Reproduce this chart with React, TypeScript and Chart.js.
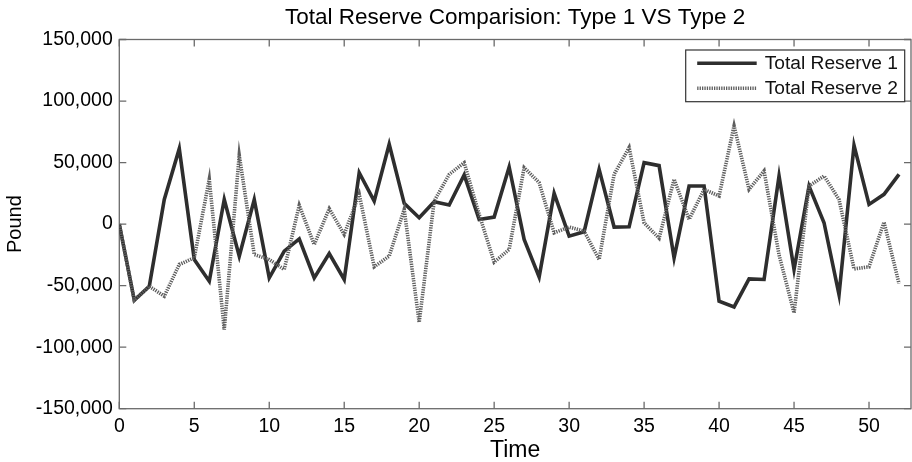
import React, { useEffect, useRef } from 'react';
import { Chart, registerables } from 'chart.js';

Chart.register(...registerables);

const chartTitle = 'Total Reserve Comparision: Type 1 VS Type 2';
const xAxisTitle = 'Time';
const yAxisTitle = 'Pound';
const seriesLabels = ['Total Reserve 1', 'Total Reserve 2'];

const timeSteps = [
  0, 1, 2, 3, 4, 5, 6, 7, 8, 9, 10, 11, 12, 13, 14, 15, 16, 17, 18, 19, 20,
  21, 22, 23, 24, 25, 26, 27, 28, 29, 30, 31, 32, 33, 34, 35, 36, 37, 38, 39,
  40, 41, 42, 43, 44, 45, 46, 47, 48, 49, 50, 51, 52,
];

const reserve1 = [
  0, -61900, -50500, 20000, 61300, -28800, -46400, 20000, -26000, 20000,
  -43700, -22000, -12000, -43700, -23900, -45000, 41800, 18700, 64900, 16800,
  5200, 18200, 15500, 39900, 3800, 5700, 46400, -12500, -42900, 25000,
  -9800, -6200, 44500, -2400, -2200, 49900, 47500, -27400, 30900, 30900,
  -62700, -67300, -44500, -45000, 39100, -36900, 30900, 1100, -57300, 64000,
  16000, 24200, 40400,
];

const reserve2 = [
  0, -61900, -50500, -58600, -32800, -27400, 36400, -85800, 55900, -24700,
  -28800, -36900, 15200, -16600, 12500, -8400, 24200, -34700, -26000, 11900,
  -79800, 18700, 40400, 49900, 7900, -30900, -20600, 45900, 33700, -7100,
  -2400, -5700, -28800, 40400, 62200, 1000, -11500, 36400, 3800, 28200,
  22800, 79800, 28200, 43200, -25000, -72200, 30900, 39100, 20000, -36400,
  -34700, 1600, -48300,
];

const xMin = 0;
const xMax = 52.8;
const xStep = 5;
const yMin = -150000;
const yMax = 150000;
const yStep = 50000;

const FONT = "'Liberation Sans', Arial, Helvetica, sans-serif";
const AXIS_COLOR = '#6a6a6a';

const frameTicksPlugin = {
  id: 'frameTicks',
  beforeDatasetsDraw(chart: any) {
    const { ctx, chartArea } = chart;
    const { left, right, top, bottom } = chartArea;
    const xs = chart.scales.x;
    const ys = chart.scales.y;
    const len = 7;
    ctx.save();
    ctx.strokeStyle = AXIS_COLOR;
    ctx.lineWidth = 1.3;
    ctx.beginPath();
    xs.ticks.forEach((t: any) => {
      const px = xs.getPixelForValue(t.value);
      ctx.moveTo(px, bottom);
      ctx.lineTo(px, bottom - len);
      ctx.moveTo(px, top);
      ctx.lineTo(px, top + len);
    });
    ys.ticks.forEach((t: any) => {
      const py = ys.getPixelForValue(t.value);
      ctx.moveTo(left, py);
      ctx.lineTo(left + len, py);
      ctx.moveTo(right, py);
      ctx.lineTo(right - len, py);
    });
    ctx.stroke();
    ctx.strokeRect(left, top, right - left, bottom - top);
    ctx.restore();
  },
};

const boxedLegendPlugin = {
  id: 'boxedLegend',
  afterDatasetsDraw(chart: any) {
    const { ctx, chartArea } = chart;
    const boxW = 219;
    const boxH = 51.7;
    const boxRight = chartArea.right - 6.3;
    const boxTop = chartArea.top + 10.5;
    const boxLeft = boxRight - boxW;
    ctx.save();
    ctx.fillStyle = '#ffffff';
    ctx.fillRect(boxLeft, boxTop, boxW, boxH);
    ctx.strokeStyle = '#333333';
    ctx.lineWidth = 1.2;
    ctx.setLineDash([]);
    ctx.strokeRect(boxLeft, boxTop, boxW, boxH);
    chart.data.datasets.forEach((ds: any, i: number) => {
      const rowY = boxTop + 13.3 + i * 25;
      ctx.save();
      ctx.strokeStyle = ds.borderColor;
      ctx.lineWidth = ds.borderWidth;
      ctx.setLineDash(ds.borderDash || []);
      ctx.beginPath();
      ctx.moveTo(boxLeft + 11.5, rowY);
      ctx.lineTo(boxLeft + 71, rowY);
      ctx.stroke();
      ctx.restore();
      ctx.fillStyle = '#111111';
      ctx.font = `19.2px ${FONT}`;
      ctx.textBaseline = 'middle';
      ctx.textAlign = 'left';
      ctx.fillText(ds.label, boxLeft + 79, rowY + 0.5);
    });
    ctx.restore();
  },
};

export default function App() {
  const canvasRef = useRef<HTMLCanvasElement | null>(null);

  useEffect(() => {
    const canvas = canvasRef.current;
    if (!canvas) return;
    const chart = new Chart(canvas, {
      type: 'line',
      data: {
        datasets: [
          {
            label: seriesLabels[0],
            data: timeSteps.map((t, i) => ({ x: t, y: reserve1[i] })),
            borderColor: '#2e2e2e',
            borderWidth: 3.6,
            pointRadius: 0,
            tension: 0,
            fill: false,
            order: 1,
          },
          {
            label: seriesLabels[1],
            data: timeSteps.map((t, i) => ({ x: t, y: reserve2[i] })),
            borderColor: '#5e5e5e',
            borderWidth: 3.6,
            borderDash: [1.3, 1.1],
            pointRadius: 0,
            tension: 0,
            fill: false,
            order: 0,
          },
        ],
      },
      options: {
        responsive: false,
        animation: false,
        layout: { padding: { left: 0, right: 1, top: 0, bottom: 0 } },
        plugins: {
          legend: { display: false },
          tooltip: { enabled: false },
          title: {
            display: true,
            text: chartTitle,
            fullSize: false,
            color: '#000000',
            font: { family: FONT, size: 22.5, weight: 'normal' },
            padding: { top: 4, bottom: 8.5 },
          },
        },
        scales: {
          x: {
            type: 'linear',
            min: xMin,
            max: xMax,
            grid: { display: false, drawTicks: false },
            border: { display: false },
            ticks: {
              stepSize: xStep,
              includeBounds: false,
              color: '#000000',
              padding: 6,
              maxRotation: 0,
              font: { family: FONT, size: 19.5 },
            },
            afterBuildTicks: (s: any) => {
              s.ticks = s.ticks.filter(
                (t: any) => Math.abs(t.value / xStep - Math.round(t.value / xStep)) < 1e-6
              );
            },
            afterFit: (s: any) => {
              s.height = 53.3;
            },
            title: {
              display: true,
              text: xAxisTitle,
              color: '#000000',
              font: { family: FONT, size: 23 },
              padding: { top: 0, bottom: -2 },
            },
          },
          y: {
            type: 'linear',
            min: yMin,
            max: yMax,
            grid: { display: false, drawTicks: false },
            border: { display: false },
            ticks: {
              stepSize: yStep,
              color: '#000000',
              padding: 6.5,
              font: { family: FONT, size: 19.5 },
              callback: (v: any) => Number(v).toLocaleString('en-US'),
            },
            afterFit: (s: any) => {
              s.width = 119.3;
            },
            title: {
              display: true,
              text: yAxisTitle,
              color: '#000000',
              font: { family: FONT, size: 20 },
              padding: { top: 3, bottom: 0 },
            },
          },
        },
      },
      plugins: [frameTicksPlugin, boxedLegendPlugin],
    });
    return () => chart.destroy();
  }, []);

  return (
    <canvas
      ref={canvasRef}
      width={912}
      height={462}
      style={{ position: 'absolute', left: 0, top: 0, display: 'block', background: '#ffffff' }}
    />
  );
}
